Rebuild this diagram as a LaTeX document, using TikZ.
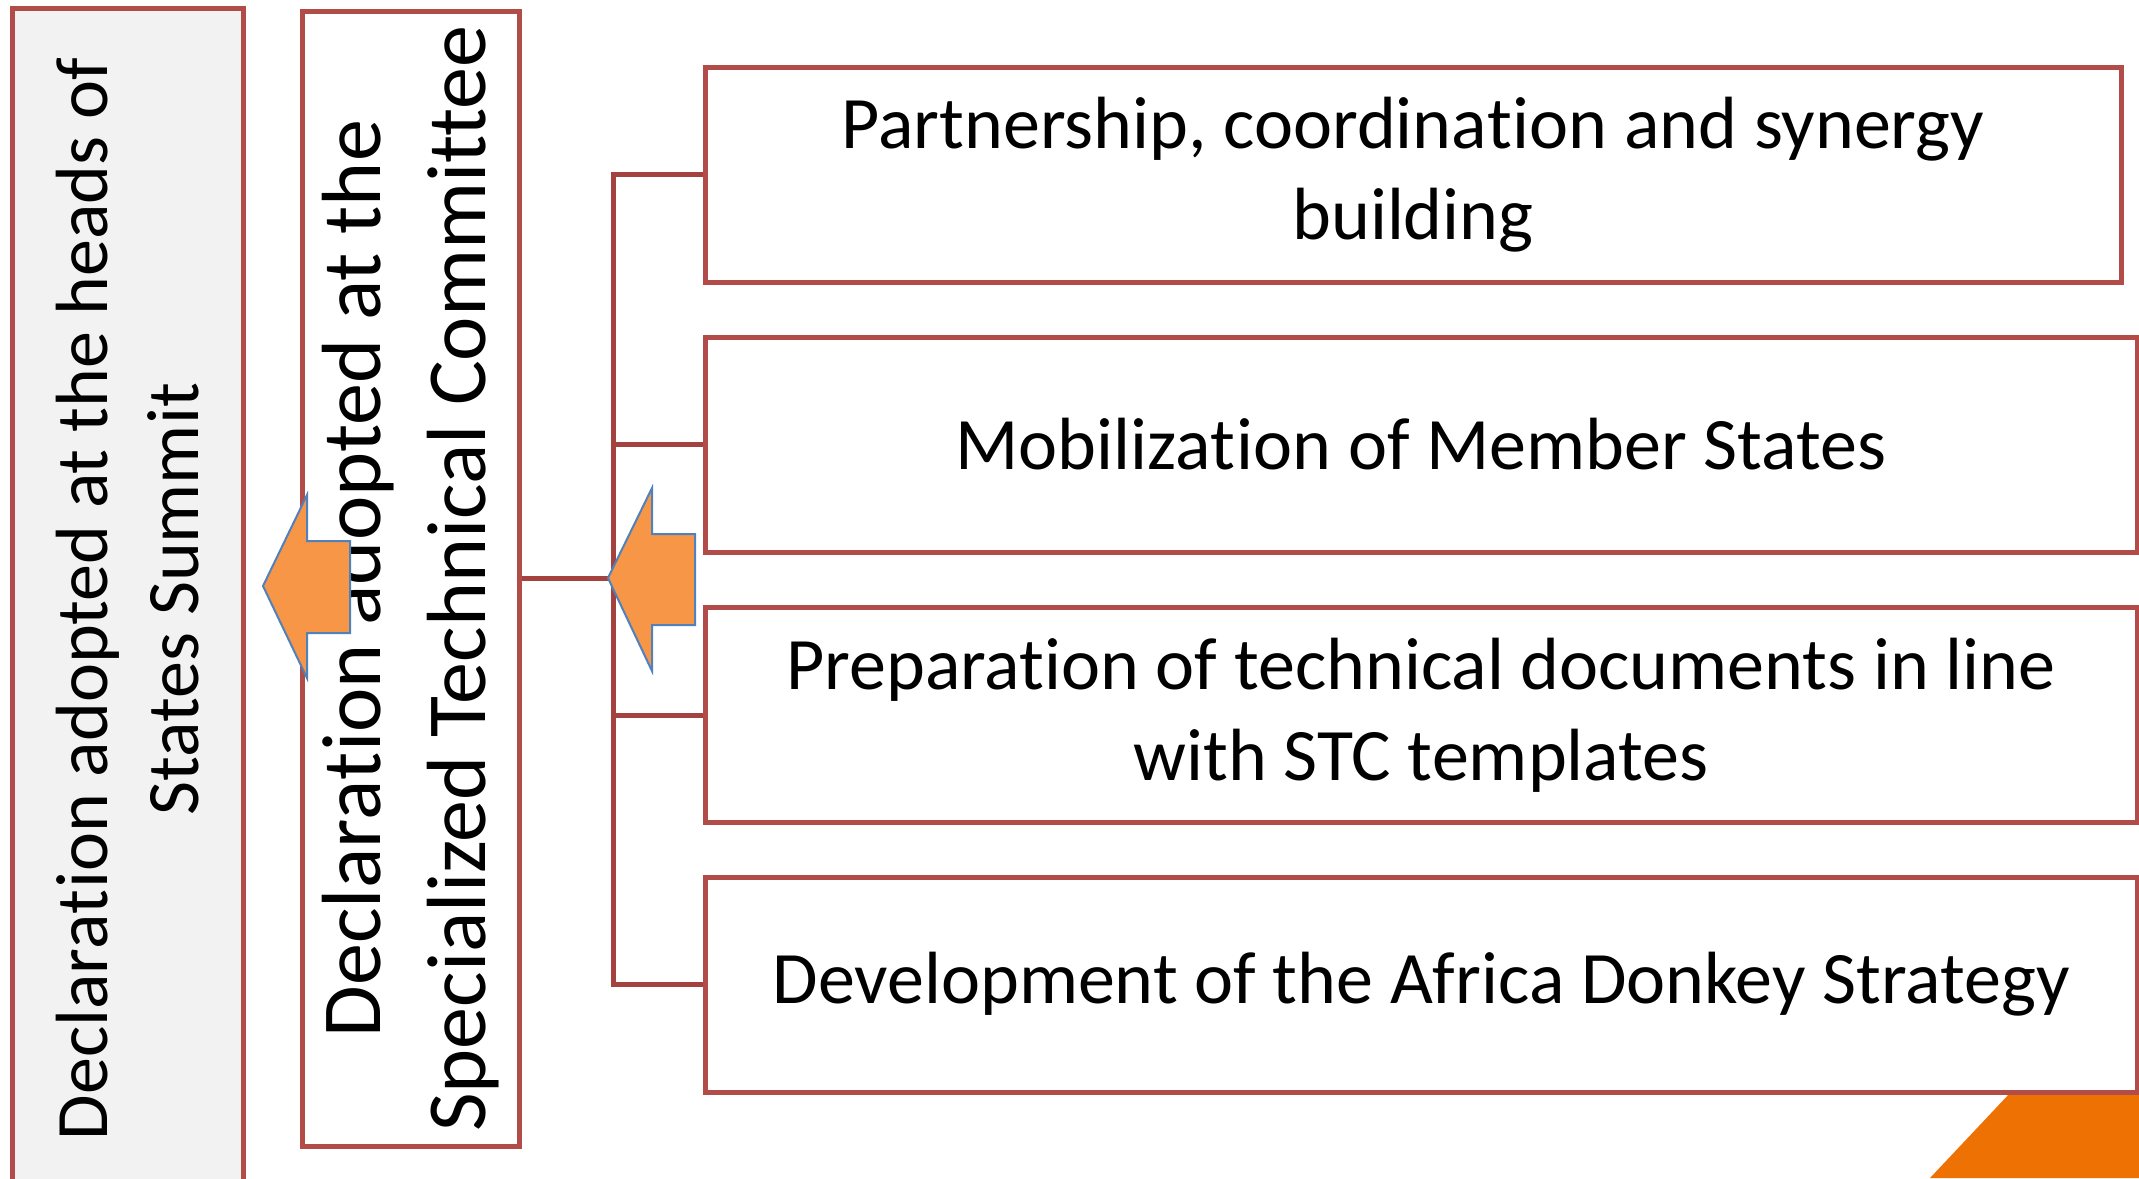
\documentclass[tikz,border=0pt]{standalone}
\usepackage{fontspec}
\setmainfont{Carlito}[RawFeature={-liga;-clig;-calt;-dlig}]
\newcommand{\tix}{\hbox{t}\kern0.8pt\hbox{i}}
\definecolor{bord}{RGB}{178,76,73}
\definecolor{brack}{RGB}{164,66,63}
\definecolor{arrfill}{RGB}{247,150,70}
\definecolor{arrline}{RGB}{79,129,189}
\definecolor{corner}{RGB}{237,113,3}
\definecolor{lgray}{RGB}{242,242,242}
\begin{document}
\begin{tikzpicture}[x=1pt,y=1pt,
  rbox/.style={draw=bord, line width=5pt, fill=white, inner sep=0pt, minimum height=215pt, align=center,
    font=\fontsize{74}{91}\selectfont},
  vbox/.style={draw=bord, line width=5pt, inner sep=0pt, rotate=90, align=center},
  conn/.style={draw=brack, line width=5pt},
  bigarrow/.style={fill=arrfill, draw=arrline, line width=2pt, line join=miter}
]
\useasboundingbox (0,0) rectangle (2139,-1178);
\fill[white] (0,0) rectangle (2139,-1178);
% corner triangle
\fill[corner] (1930,-1178) -- (2139,-956) -- (2139,-1178) -- cycle;
% left box
\node[vbox, fill=lgray, minimum width=1182pt, minimum height=231pt, font=\fontsize{74}{91}\selectfont]
  (hs) at (127.5,-599) {Declara\tix on adopted at the heads of\\States Summit};
% STC box
\node[vbox, fill=white, minimum width=1135pt, minimum height=217pt, font=\fontsize{84}{105}\selectfont]
  (stc) at (410.5,-578.5) {Declara\tix on adopted at the\\Specialized Technical Committee};
% right boxes
\node[rbox, minimum width=1416pt] (r1) at (1413,-174.5) {Partnership, coordina\tix on and synergy\\building};
\node[rbox, minimum width=1432pt] (r2) at (1421,-444.5) {Mobiliza\tix on of Member States};
\node[rbox, minimum width=1432pt] (r3) at (1421,-715) {Preparation of technical documents in line\\with STC templates};
\node[rbox, minimum width=1432pt] (r4) at (1421,-984.5) {Development of the Africa Donkey Strategy};
% bracket
\coordinate (bj) at (613,-578.5);
\coordinate (b1) at (613,-174.5);
\coordinate (b2) at (613,-444.5);
\coordinate (b3) at (613,-715);
\coordinate (b4) at (613,-984.5);
\draw[conn] (stc.south) -- (bj);
\draw[conn, line cap=rect] (b1) -- (b4);
\draw[conn] (b1) -- (r1.west);
\draw[conn] (b2) -- (r2.west);
\draw[conn] (b3) -- (r3.west);
\draw[conn] (b4) -- (r4.west);
% arrows
\draw[bigarrow] (263,-586) -- (307,-495) -- (307,-541) -- (350,-541) -- (350,-633) -- (307,-633) -- (307,-678) -- cycle;
\draw[bigarrow] (608,-578) -- (652,-488) -- (652,-534) -- (695,-534) -- (695,-625) -- (652,-625) -- (652,-671) -- cycle;
\end{tikzpicture}
\end{document}
